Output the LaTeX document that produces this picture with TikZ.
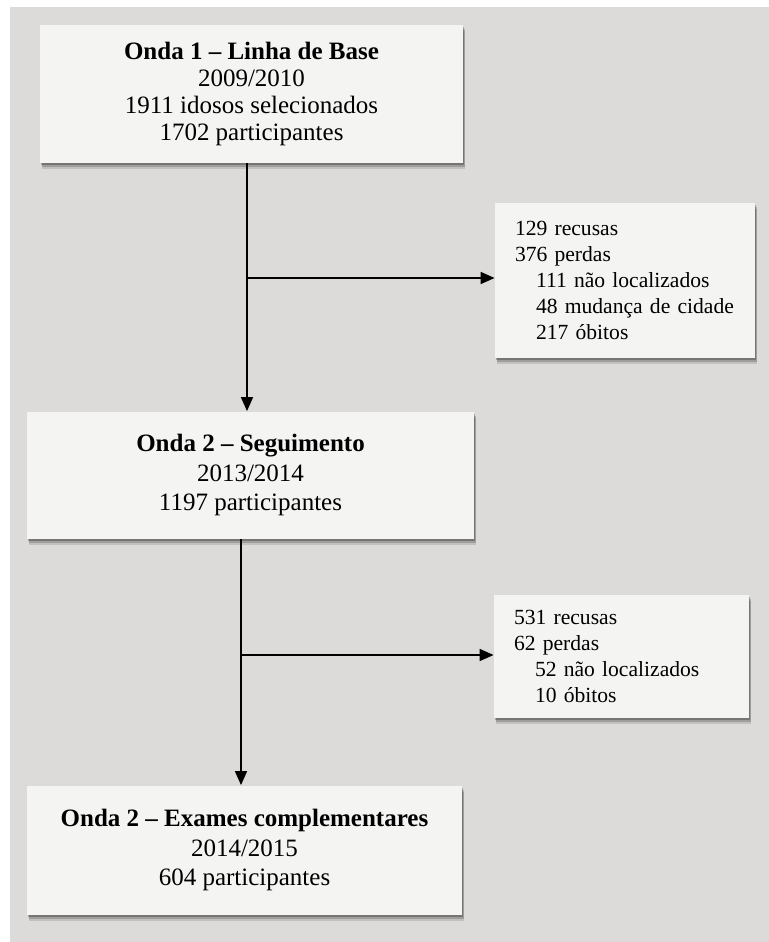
\documentclass[tikz,border=0pt]{standalone}
\usepackage{fontspec}
\setmainfont{Liberation Serif}
\usetikzlibrary{arrows.meta,shadows,calc}
\definecolor{bgc}{RGB}{220,219,217}
\definecolor{boxc}{RGB}{244,244,243}
\tikzset{
  shd/.style={
    drop shadow={shadow xshift=1.2pt, shadow yshift=-3pt, opacity=0.12, fill=black},
    drop shadow={shadow xshift=0.8pt, shadow yshift=-2pt, opacity=0.18, fill=black},
    drop shadow={shadow xshift=0.4pt, shadow yshift=-1pt, opacity=0.25, fill=black}},
  mainbox/.style={shd, fill=boxc, draw=none, align=center, inner sep=0pt,
    font=\fontsize{12.5pt}{13.4pt}\selectfont},
  mainboxb/.style={mainbox, font=\fontsize{12.5pt}{14.8pt}\selectfont},
  sidebox/.style={shd, fill=boxc, draw=none, align=left, inner xsep=10pt, inner ysep=0pt,
    font=\fontsize{10.8pt}{13pt}\selectfont},
  conn/.style={line width=0.8pt, -{Triangle[length=7pt,width=6pt]}}
}
\newcommand{\ind}[1]{\mbox{\hspace*{10.5pt}#1}}
\begin{document}
\begin{tikzpicture}[x=0.5pt,y=-0.5pt]
\useasboundingbox (0,0) rectangle (769,942);
\fill[bgc] (10,7) rectangle (769,942);

\node[mainbox, minimum width=211.5pt, minimum height=69pt] (b1) at (251.5,94)
  {\textbf{Onda 1 -- Linha de Base}\\2009/2010\\1911 idosos selecionados\\1702 participantes};
\node[sidebox, minimum width=130pt, minimum height=77.5pt, text width=110pt] (s1) at (625,280.5)
  {129 recusas\\376 perdas\\\ind{111 não localizados}\\\ind{48 mudança de cidade}\\\ind{217 óbitos}};
\node[mainboxb, minimum width=223.5pt, minimum height=63.5pt] (b2) at (250.5,475)
  {\textbf{Onda 2 -- Seguimento}\\2013/2014\\1197 participantes};
\node[sidebox, minimum width=127.5pt, minimum height=61.5pt, text width=107.5pt] (s2) at (621.5,656.5)
  {531 recusas\\62 perdas\\\ind{52 não localizados}\\\ind{10 óbitos}};
\node[mainboxb, minimum width=217.5pt, minimum height=64.5pt] (b3) at (244.5,850)
  {\textbf{Onda 2 -- Exames complementares}\\2014/2015\\604 participantes};

\coordinate (j1) at (247,278);
\coordinate (j2) at (241,655);
\draw[conn] (j1 |- b1.south) -- (j1 |- b2.north);
\draw[conn] (j1) -- (j1 -| s1.west);
\draw[conn] (j2 |- b2.south) -- (j2 |- b3.north);
\draw[conn] (j2) -- (j2 -| s2.west);
\end{tikzpicture}
\end{document}
